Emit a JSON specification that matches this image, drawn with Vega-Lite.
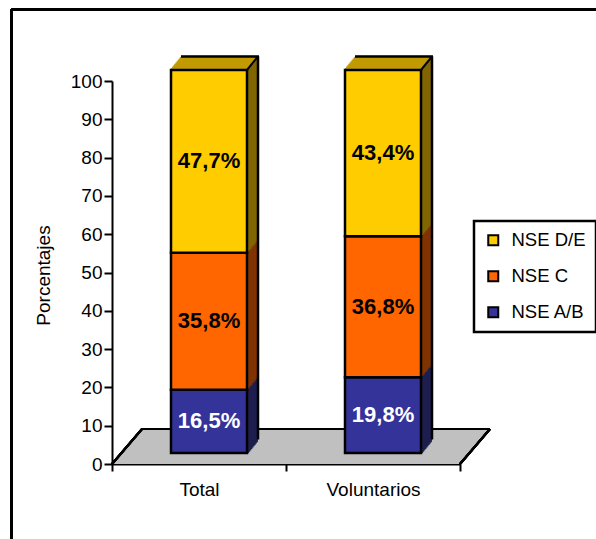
{
  "$schema": "https://vega.github.io/schema/vega-lite/v6.json",
  "width": 348,
  "height": 383,
  "autosize": {"type": "none"},
  "padding": {"left": 112, "top": 81, "right": 136, "bottom": 75},
  "background": "white",
  "config": {
    "font": "Liberation Sans",
    "view": {"stroke": null},
    "axis": {"grid": false, "labelFont": "Liberation Sans", "titleFont": "Liberation Sans", "labelColor": "black", "titleColor": "black", "domainColor": "black", "domainWidth": 2, "tickColor": "black", "tickWidth": 2, "zindex": 1},
    "axisX": {"labelFontSize": 19, "tickBand": "extent", "tickSize": 7, "labelPadding": 9, "labelAngle": 0},
    "axisY": {"labelFontSize": 19, "tickSize": 8, "labelPadding": 2, "tickCount": 10, "titleFontSize": 19, "titleFontWeight": "normal", "titleX": -63, "titleY": 194, "titleAngle": 270, "titleBaseline": "alphabetic", "titleAlign": "center"},
    "legend": {"strokeWidth": 2.5}
  },
  "data": {
    "values": [
      {"cat": "Total", "grp": "NSE A/B", "value": 16.5, "label": "16,5%"},
      {"cat": "Total", "grp": "NSE C", "value": 35.8, "label": "35,8%"},
      {"cat": "Total", "grp": "NSE D/E", "value": 47.7, "label": "47,7%"},
      {"cat": "Voluntarios", "grp": "NSE A/B", "value": 19.8, "label": "19,8%"},
      {"cat": "Voluntarios", "grp": "NSE C", "value": 36.8, "label": "36,8%"},
      {"cat": "Voluntarios", "grp": "NSE D/E", "value": 43.4, "label": "43,4%"}
    ]
  },
  "encoding": {
    "x": {"field": "cat", "type": "nominal", "sort": ["Total", "Voluntarios"], "title": null, "scale": {"paddingInner": 0, "paddingOuter": 0}}
  },
  "layer": [
    {"mark": {"type": "rule", "color": "black", "strokeWidth": 2.5, "xOffset": -187.5, "yOffset": -71.5, "y2Offset": 81},
     "encoding": {"x": {"datum": "Total", "type": "nominal"}, "y": {"datum": 100, "type": "quantitative", "title": "Porcentajes"}, "y2": {"datum": 0}}},
    {"mark": {"type": "rule", "color": "black", "strokeWidth": 2.5, "xOffset": -187.5, "x2Offset": 320, "yOffset": -71.5, "y2Offset": -71.5},
     "encoding": {"x": {"datum": "Total", "type": "nominal"}, "x2": {"datum": "Voluntarios"}, "y": {"datum": 100, "type": "quantitative", "title": "Porcentajes"}, "y2": {"datum": 100}}},

    {"mark": {"type": "tick", "color": "#C0C0C0", "opacity": 1, "thickness": 3.2, "size": 174, "xOffset": 1.3, "yOffset": -1.5}, "encoding": {"y": {"datum": 0, "type": "quantitative", "title": "Porcentajes"}}},
    {"mark": {"type": "tick", "color": "#C0C0C0", "opacity": 1, "thickness": 3.2, "size": 174, "xOffset": 3.8, "yOffset": -4.4}, "encoding": {"y": {"datum": 0, "type": "quantitative", "title": "Porcentajes"}}},
    {"mark": {"type": "tick", "color": "#C0C0C0", "opacity": 1, "thickness": 3.2, "size": 174, "xOffset": 6.3, "yOffset": -7.3}, "encoding": {"y": {"datum": 0, "type": "quantitative", "title": "Porcentajes"}}},
    {"mark": {"type": "tick", "color": "#C0C0C0", "opacity": 1, "thickness": 3.2, "size": 174, "xOffset": 8.8, "yOffset": -10.3}, "encoding": {"y": {"datum": 0, "type": "quantitative", "title": "Porcentajes"}}},
    {"mark": {"type": "tick", "color": "#C0C0C0", "opacity": 1, "thickness": 3.2, "size": 174, "xOffset": 11.3, "yOffset": -13.2}, "encoding": {"y": {"datum": 0, "type": "quantitative", "title": "Porcentajes"}}},
    {"mark": {"type": "tick", "color": "#C0C0C0", "opacity": 1, "thickness": 3.2, "size": 174, "xOffset": 13.8, "yOffset": -16.1}, "encoding": {"y": {"datum": 0, "type": "quantitative", "title": "Porcentajes"}}},
    {"mark": {"type": "tick", "color": "#C0C0C0", "opacity": 1, "thickness": 3.2, "size": 174, "xOffset": 16.3, "yOffset": -19.0}, "encoding": {"y": {"datum": 0, "type": "quantitative", "title": "Porcentajes"}}},
    {"mark": {"type": "tick", "color": "#C0C0C0", "opacity": 1, "thickness": 3.2, "size": 174, "xOffset": 18.8, "yOffset": -21.9}, "encoding": {"y": {"datum": 0, "type": "quantitative", "title": "Porcentajes"}}},
    {"mark": {"type": "tick", "color": "#C0C0C0", "opacity": 1, "thickness": 3.2, "size": 174, "xOffset": 21.3, "yOffset": -24.9}, "encoding": {"y": {"datum": 0, "type": "quantitative", "title": "Porcentajes"}}},
    {"mark": {"type": "tick", "color": "#C0C0C0", "opacity": 1, "thickness": 3.2, "size": 174, "xOffset": 23.8, "yOffset": -27.8}, "encoding": {"y": {"datum": 0, "type": "quantitative", "title": "Porcentajes"}}},
    {"mark": {"type": "tick", "color": "#C0C0C0", "opacity": 1, "thickness": 3.2, "size": 174, "xOffset": 26.3, "yOffset": -30.7}, "encoding": {"y": {"datum": 0, "type": "quantitative", "title": "Porcentajes"}}},
    {"mark": {"type": "tick", "color": "#C0C0C0", "opacity": 1, "thickness": 3.2, "size": 174, "xOffset": 28.8, "yOffset": -33.6}, "encoding": {"y": {"datum": 0, "type": "quantitative", "title": "Porcentajes"}}},
    {"mark": {"type": "tick", "color": "black", "opacity": 1, "thickness": 2, "size": 174, "xOffset": 30, "yOffset": -35}, "encoding": {"y": {"datum": 0, "type": "quantitative", "title": "Porcentajes"}}},
    {"mark": {"type": "rule", "color": "black", "strokeWidth": 2, "xOffset": -87, "x2Offset": -57, "yOffset": 0, "y2Offset": -35},
     "encoding": {"x": {"datum": "Total", "type": "nominal"}, "x2": {"datum": "Total"}, "y": {"datum": 0, "type": "quantitative", "title": "Porcentajes"}, "y2": {"datum": 0}}},
    {"mark": {"type": "rule", "color": "black", "strokeWidth": 2, "xOffset": 87, "x2Offset": 117, "yOffset": 0, "y2Offset": -35},
     "encoding": {"x": {"datum": "Voluntarios", "type": "nominal"}, "x2": {"datum": "Voluntarios"}, "y": {"datum": 0, "type": "quantitative", "title": "Porcentajes"}, "y2": {"datum": 0}}},

    {"mark": {"type": "bar", "width": 2.2, "xOffset": 49, "yOffset": -11, "y2Offset": -11}, "encoding": {"y": {"field": "value", "type": "quantitative", "stack": "zero", "title": "Porcentajes"}, "detail": {"field": "grp"}, "order": {"field": "grp", "sort": "ascending"}, "color": {"condition": [{"test": "datum.grp === 'NSE A/B'", "value": "#1E1E4F"}, {"test": "datum.grp === 'NSE C'", "value": "#803300"}], "value": "#806600"}}},
    {"mark": {"type": "bar", "width": 2.2, "xOffset": 50.1, "yOffset": -12.35, "y2Offset": -12.35}, "encoding": {"y": {"field": "value", "type": "quantitative", "stack": "zero", "title": "Porcentajes"}, "detail": {"field": "grp"}, "order": {"field": "grp", "sort": "ascending"}, "color": {"condition": [{"test": "datum.grp === 'NSE A/B'", "value": "#1E1E4F"}, {"test": "datum.grp === 'NSE C'", "value": "#803300"}], "value": "#806600"}}},
    {"mark": {"type": "bar", "width": 2.2, "xOffset": 51.2, "yOffset": -13.7, "y2Offset": -13.7}, "encoding": {"y": {"field": "value", "type": "quantitative", "stack": "zero", "title": "Porcentajes"}, "detail": {"field": "grp"}, "order": {"field": "grp", "sort": "ascending"}, "color": {"condition": [{"test": "datum.grp === 'NSE A/B'", "value": "#1E1E4F"}, {"test": "datum.grp === 'NSE C'", "value": "#803300"}], "value": "#806600"}}},
    {"mark": {"type": "bar", "width": 2.2, "xOffset": 52.3, "yOffset": -15.05, "y2Offset": -15.05}, "encoding": {"y": {"field": "value", "type": "quantitative", "stack": "zero", "title": "Porcentajes"}, "detail": {"field": "grp"}, "order": {"field": "grp", "sort": "ascending"}, "color": {"condition": [{"test": "datum.grp === 'NSE A/B'", "value": "#1E1E4F"}, {"test": "datum.grp === 'NSE C'", "value": "#803300"}], "value": "#806600"}}},
    {"mark": {"type": "bar", "width": 2.2, "xOffset": 53.4, "yOffset": -16.4, "y2Offset": -16.4}, "encoding": {"y": {"field": "value", "type": "quantitative", "stack": "zero", "title": "Porcentajes"}, "detail": {"field": "grp"}, "order": {"field": "grp", "sort": "ascending"}, "color": {"condition": [{"test": "datum.grp === 'NSE A/B'", "value": "#1E1E4F"}, {"test": "datum.grp === 'NSE C'", "value": "#803300"}], "value": "#806600"}}},
    {"mark": {"type": "bar", "width": 2.2, "xOffset": 54.5, "yOffset": -17.75, "y2Offset": -17.75}, "encoding": {"y": {"field": "value", "type": "quantitative", "stack": "zero", "title": "Porcentajes"}, "detail": {"field": "grp"}, "order": {"field": "grp", "sort": "ascending"}, "color": {"condition": [{"test": "datum.grp === 'NSE A/B'", "value": "#1E1E4F"}, {"test": "datum.grp === 'NSE C'", "value": "#803300"}], "value": "#806600"}}},
    {"mark": {"type": "bar", "width": 2.2, "xOffset": 55.6, "yOffset": -19.1, "y2Offset": -19.1}, "encoding": {"y": {"field": "value", "type": "quantitative", "stack": "zero", "title": "Porcentajes"}, "detail": {"field": "grp"}, "order": {"field": "grp", "sort": "ascending"}, "color": {"condition": [{"test": "datum.grp === 'NSE A/B'", "value": "#1E1E4F"}, {"test": "datum.grp === 'NSE C'", "value": "#803300"}], "value": "#806600"}}},
    {"mark": {"type": "bar", "width": 2.2, "xOffset": 56.7, "yOffset": -20.45, "y2Offset": -20.45}, "encoding": {"y": {"field": "value", "type": "quantitative", "stack": "zero", "title": "Porcentajes"}, "detail": {"field": "grp"}, "order": {"field": "grp", "sort": "ascending"}, "color": {"condition": [{"test": "datum.grp === 'NSE A/B'", "value": "#1E1E4F"}, {"test": "datum.grp === 'NSE C'", "value": "#803300"}], "value": "#806600"}}},
    {"mark": {"type": "bar", "width": 2.2, "xOffset": 57.8, "yOffset": -21.8, "y2Offset": -21.8}, "encoding": {"y": {"field": "value", "type": "quantitative", "stack": "zero", "title": "Porcentajes"}, "detail": {"field": "grp"}, "order": {"field": "grp", "sort": "ascending"}, "color": {"condition": [{"test": "datum.grp === 'NSE A/B'", "value": "#1E1E4F"}, {"test": "datum.grp === 'NSE C'", "value": "#803300"}], "value": "#806600"}}},

    {"mark": {"type": "tick", "color": "#C09A00", "opacity": 1, "thickness": 2.2, "size": 76, "xOffset": 10, "yOffset": -12}, "encoding": {"y": {"aggregate": "sum", "field": "value", "type": "quantitative", "title": "Porcentajes"}}},
    {"mark": {"type": "tick", "color": "#C09A00", "opacity": 1, "thickness": 2.2, "size": 76, "xOffset": 11.1, "yOffset": -13.35}, "encoding": {"y": {"aggregate": "sum", "field": "value", "type": "quantitative", "title": "Porcentajes"}}},
    {"mark": {"type": "tick", "color": "#C09A00", "opacity": 1, "thickness": 2.2, "size": 76, "xOffset": 12.2, "yOffset": -14.7}, "encoding": {"y": {"aggregate": "sum", "field": "value", "type": "quantitative", "title": "Porcentajes"}}},
    {"mark": {"type": "tick", "color": "#C09A00", "opacity": 1, "thickness": 2.2, "size": 76, "xOffset": 13.3, "yOffset": -16.05}, "encoding": {"y": {"aggregate": "sum", "field": "value", "type": "quantitative", "title": "Porcentajes"}}},
    {"mark": {"type": "tick", "color": "#C09A00", "opacity": 1, "thickness": 2.2, "size": 76, "xOffset": 14.4, "yOffset": -17.4}, "encoding": {"y": {"aggregate": "sum", "field": "value", "type": "quantitative", "title": "Porcentajes"}}},
    {"mark": {"type": "tick", "color": "#C09A00", "opacity": 1, "thickness": 2.2, "size": 76, "xOffset": 15.5, "yOffset": -18.75}, "encoding": {"y": {"aggregate": "sum", "field": "value", "type": "quantitative", "title": "Porcentajes"}}},
    {"mark": {"type": "tick", "color": "#C09A00", "opacity": 1, "thickness": 2.2, "size": 76, "xOffset": 16.6, "yOffset": -20.1}, "encoding": {"y": {"aggregate": "sum", "field": "value", "type": "quantitative", "title": "Porcentajes"}}},
    {"mark": {"type": "tick", "color": "#C09A00", "opacity": 1, "thickness": 2.2, "size": 76, "xOffset": 17.7, "yOffset": -21.45}, "encoding": {"y": {"aggregate": "sum", "field": "value", "type": "quantitative", "title": "Porcentajes"}}},
    {"mark": {"type": "tick", "color": "#C09A00", "opacity": 1, "thickness": 2.2, "size": 76, "xOffset": 18.8, "yOffset": -22.8}, "encoding": {"y": {"aggregate": "sum", "field": "value", "type": "quantitative", "title": "Porcentajes"}}},
    {"mark": {"type": "tick", "color": "#C09A00", "opacity": 1, "thickness": 2.2, "size": 76, "xOffset": 19.9, "yOffset": -24.15}, "encoding": {"y": {"aggregate": "sum", "field": "value", "type": "quantitative", "title": "Porcentajes"}}},

    {"mark": {"type": "tick", "color": "black", "opacity": 1, "thickness": 2.5, "size": 78, "xOffset": 21, "yOffset": -24.5}, "encoding": {"y": {"aggregate": "sum", "field": "value", "type": "quantitative", "title": "Porcentajes"}}},
    {"mark": {"type": "rule", "color": "black", "strokeWidth": 2.5, "xOffset": 59, "yOffset": -24.5, "y2Offset": -24.5}, "encoding": {"y": {"aggregate": "sum", "field": "value", "type": "quantitative", "title": "Porcentajes"}, "y2": {"datum": 0}}},
    {"mark": {"type": "rule", "color": "black", "strokeWidth": 2, "xOffset": 48, "x2Offset": 59, "yOffset": -11, "y2Offset": -24.5}, "encoding": {"x2": {"field": "cat"}, "y": {"aggregate": "sum", "field": "value", "type": "quantitative", "title": "Porcentajes"}, "y2": {"aggregate": "sum", "field": "value"}}},

    {"mark": {"type": "bar", "width": 76, "xOffset": 10, "yOffset": -11, "y2Offset": -11, "stroke": "black", "strokeWidth": 2.5, "opacity": 1},
     "encoding": {
       "y": {"field": "value", "type": "quantitative", "stack": "zero", "title": "Porcentajes", "scale": {"domain": [0, 100], "nice": false}},
       "order": {"field": "grp", "sort": "ascending"},
       "color": {"field": "grp", "type": "nominal",
         "scale": {"domain": ["NSE D/E", "NSE C", "NSE A/B"], "range": ["#FFCC00", "#FF6600", "#333399"]},
         "legend": {"orient": "none", "legendX": 362, "legendY": 140, "title": null, "symbolType": "square", "symbolSize": 100, "symbolStrokeColor": "black", "symbolStrokeWidth": 2, "symbolOpacity": 1, "labelFontSize": 18.5, "labelColor": "black", "labelOffset": 9, "rowPadding": 17, "padding": 10, "strokeColor": "black", "labelLimit": 200}}
     }},

    {"transform": [
       {"stack": "value", "groupby": ["cat"], "sort": [{"field": "grp"}], "as": ["v0", "v1"]},
       {"fold": ["v0", "v1"], "as": ["end", "pos"]},
       {"aggregate": [{"op": "mean", "field": "pos", "as": "mid"}], "groupby": ["cat", "grp", "label"]}
     ],
     "mark": {"type": "text", "fontSize": 22, "fontWeight": "bold", "align": "center", "baseline": "middle", "xOffset": 10, "yOffset": -11},
     "encoding": {
       "y": {"field": "mid", "type": "quantitative", "title": "Porcentajes"},
       "text": {"field": "label"},
       "color": {"condition": {"test": "datum.grp === 'NSE A/B'", "value": "white"}, "value": "black"}
     }}
  ]
}
